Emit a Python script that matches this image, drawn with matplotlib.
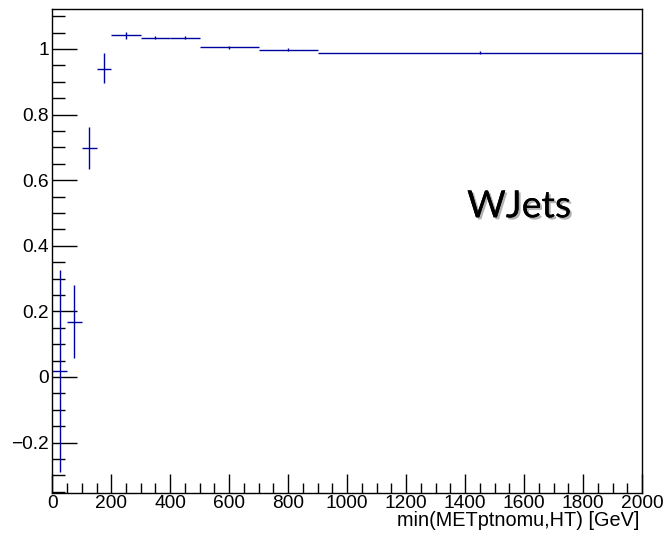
import matplotlib
matplotlib.use("Agg")
import matplotlib.pyplot as plt
import matplotlib.patheffects as pe
from matplotlib.ticker import MultipleLocator, FuncFormatter
import numpy as np

# Data
bin_edges = [0, 50, 100, 150, 200, 300, 400, 500, 700, 900, 2000]
efficiency = [0.018, 0.169, 0.699, 0.940, 1.042, 1.034, 1.034, 1.005, 0.998, 0.989]
err_up = [0.308, 0.111, 0.064, 0.047, 0.011, 0.005, 0.005, 0.004, 0.004, 0.004]
err_down = [0.308, 0.110, 0.066, 0.045, 0.012, 0.005, 0.005, 0.004, 0.004, 0.004]
x_label = "min(METptnomu,HT) [GeV]"
annotation = "WJets"

edges = np.array(bin_edges, dtype=float)
centers = 0.5 * (edges[:-1] + edges[1:])
half_w = 0.5 * (edges[1:] - edges[:-1])

plt.rcParams['font.family'] = ['Liberation Sans', 'DejaVu Sans']

W, H = 665, 538
fig = plt.figure(figsize=(W/100, H/100), dpi=100)
ax = fig.add_axes([52.3/W, 1-492.7/H, (642-52.3)/W, (492.7-9.3)/H])

color = '#0000a0'
ax.errorbar(centers, efficiency, xerr=half_w, yerr=[err_down, err_up],
            fmt='none', ecolor=color, elinewidth=1.0, capsize=0)

ax.set_xlim(0, 2000)
ax.set_ylim(-0.353, 1.121)

ax.xaxis.set_major_locator(MultipleLocator(200))
ax.xaxis.set_minor_locator(MultipleLocator(50))
ax.yaxis.set_major_locator(MultipleLocator(0.2))
ax.yaxis.set_minor_locator(MultipleLocator(0.05))

def fmt(v, pos):
    s = '%g' % round(v, 6)
    if s == '-0':
        s = '0'
    return s.replace('-', '\u2212')

ax.xaxis.set_major_formatter(FuncFormatter(fmt))
ax.yaxis.set_major_formatter(FuncFormatter(fmt))

ax.tick_params(axis='both', which='both', direction='in', top=False, right=False,
               labelsize=13.8, colors='black', width=1.0)
ax.tick_params(axis='y', which='major', length=18, pad=2.5)
ax.tick_params(axis='y', which='minor', length=9)
ax.tick_params(axis='x', which='major', length=14, pad=2.0)
ax.tick_params(axis='x', which='minor', length=7.5)

for s in ax.spines.values():
    s.set_linewidth(1.0)
    s.set_color('black')

# x-axis title, sized to the reference width
xt = fig.text(639.3/W, 1-526/H, x_label, ha='right', va='baseline', fontsize=12)
fig.canvas.draw()
r = fig.canvas.get_renderer()
w = xt.get_window_extent(r).width
xt.set_fontsize(12 * 241.0 / w)

fig.text(519/W, 1-217.3/H, annotation, ha='center', va='baseline',
         fontsize=27, family=['Lato', 'DejaVu Sans'], color='black',
         path_effects=[pe.withSimplePatchShadow(offset=(1.5, -1.5), alpha=0.3), pe.Normal()])

fig.savefig('out.png', dpi=100)
